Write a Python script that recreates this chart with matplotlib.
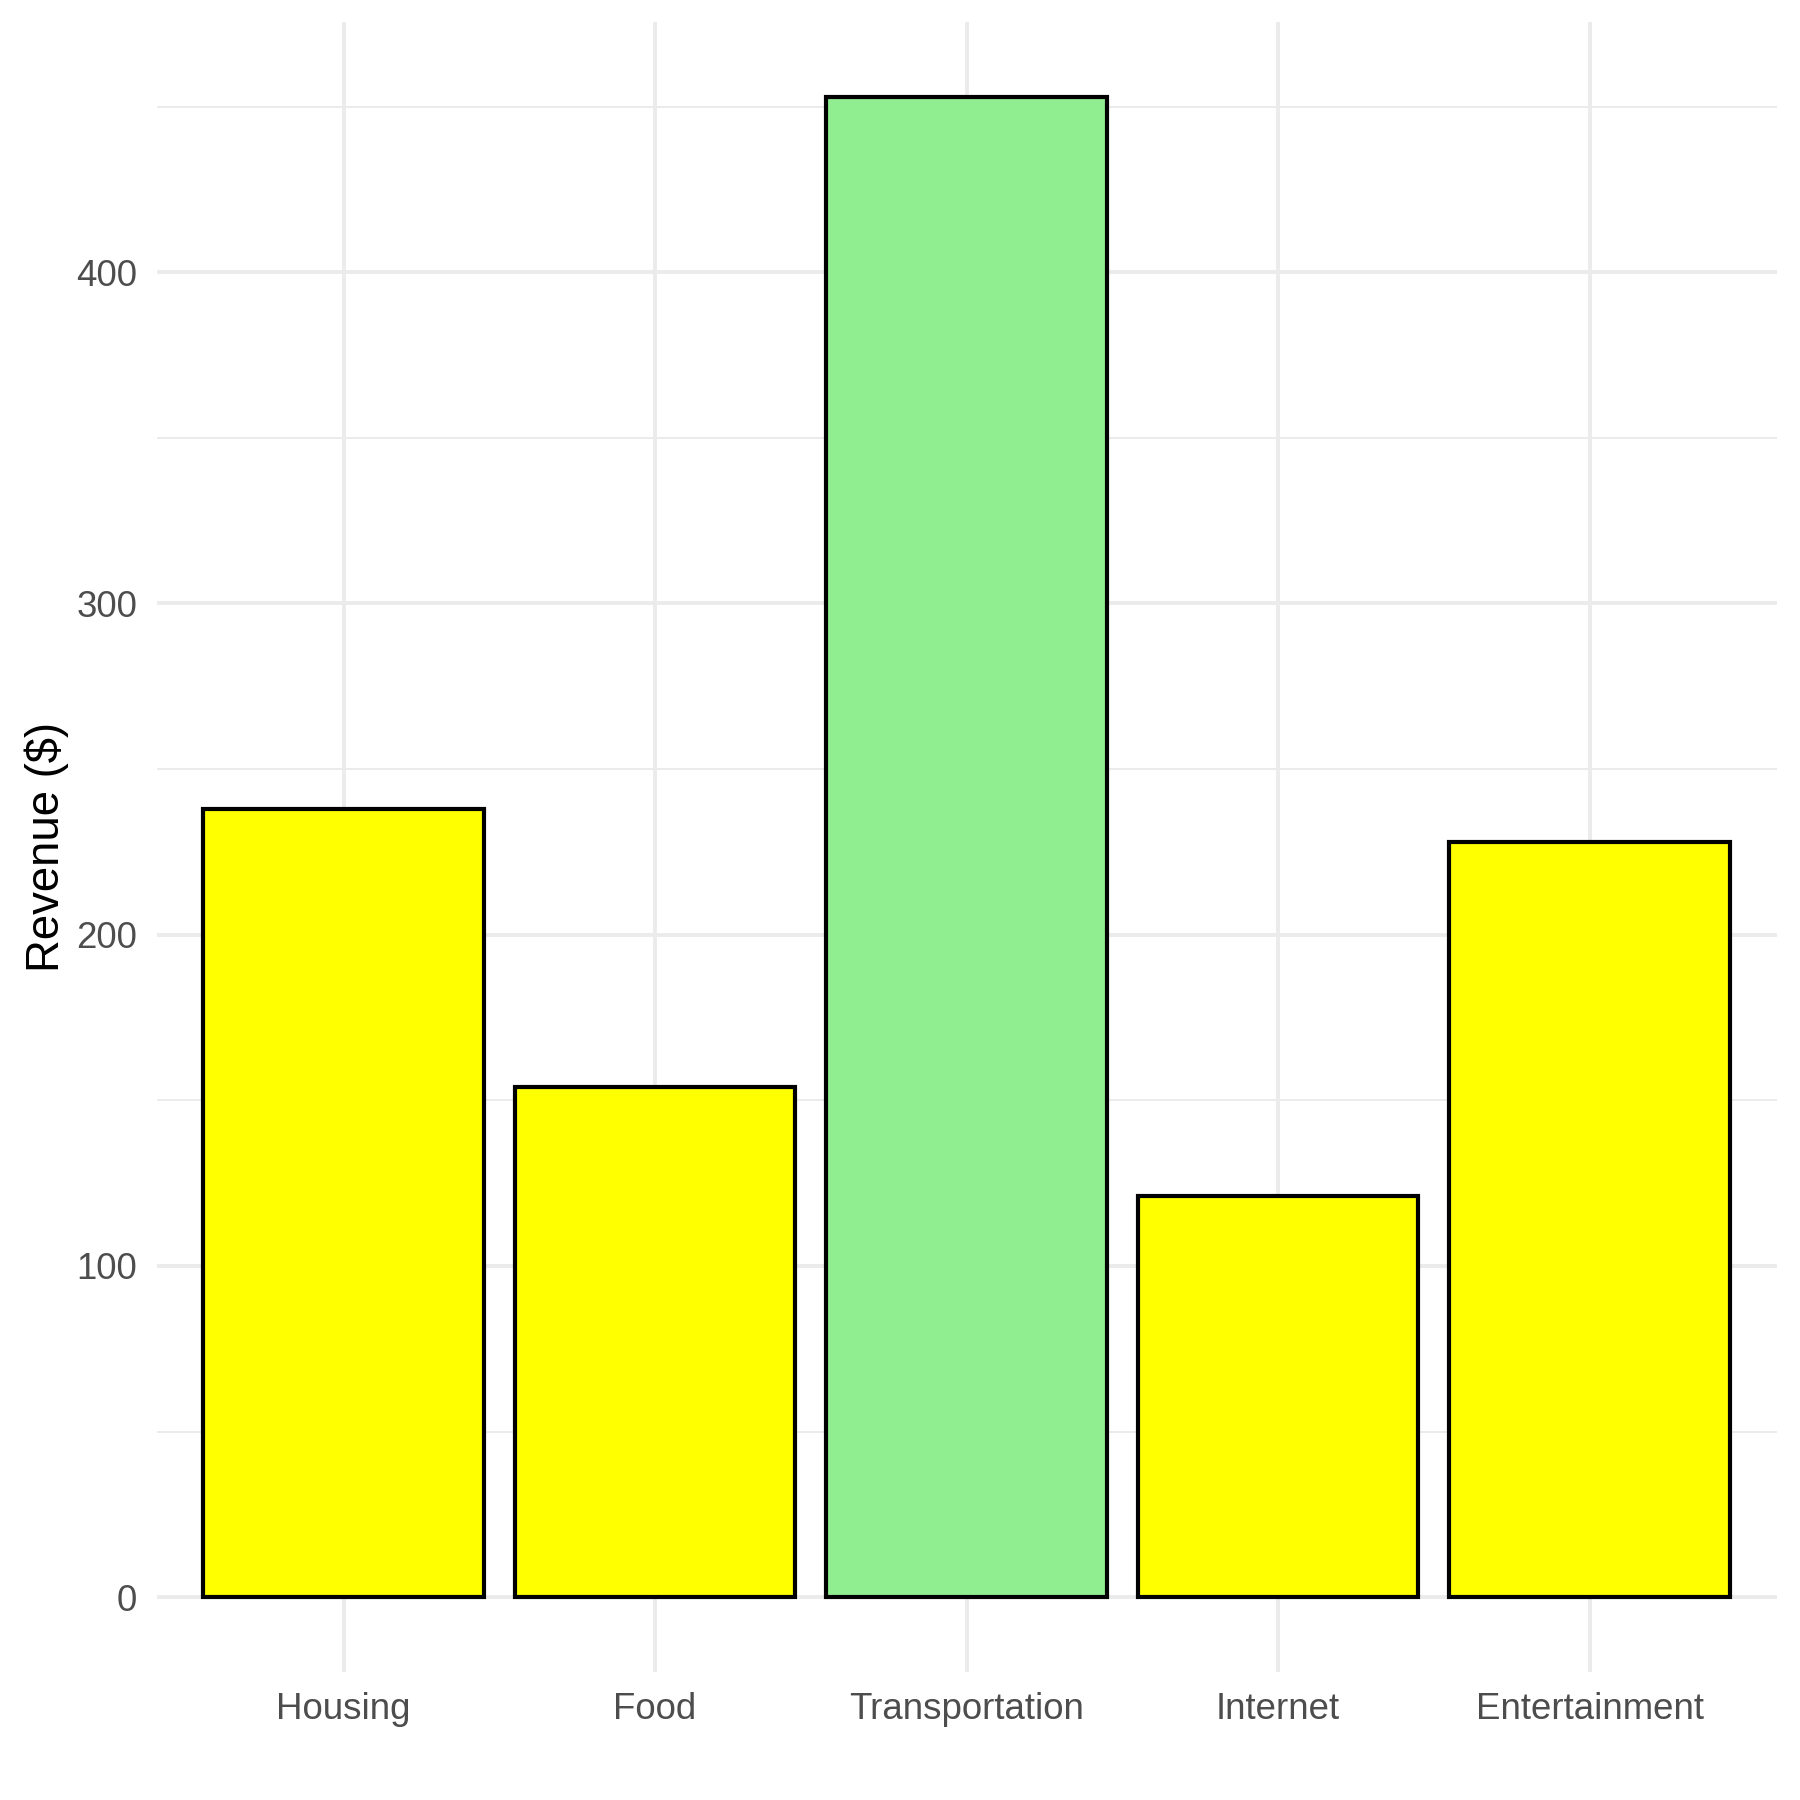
import numpy as np
import matplotlib.pyplot as plt

categories = ['Housing', 'Food', 'Transportation', 'Internet', 'Entertainment']
revenue = [238, 154, 453, 121, 228]
bar_colors = ['#FFFF00', '#FFFF00', '#90EE90', '#FFFF00', '#FFFF00']

plt.rcParams['font.family'] = ['Liberation Sans', 'DejaVu Sans']

fig = plt.figure(figsize=(9, 9), dpi=200)
ax = fig.add_axes([0.087, 0.071, 0.9, 0.917])

x = np.arange(1, len(categories) + 1)
ax.bar(x, revenue, width=0.9, color=bar_colors, edgecolor='black', linewidth=1.5, zorder=3)

ymax = max(revenue)
ax.set_ylim(-0.05 * ymax, ymax * 1.05)
ax.set_xlim(0.4, len(categories) + 0.6)

ax.set_yticks([0, 100, 200, 300, 400])
ax.set_yticks([50, 150, 250, 350, 450], minor=True)
ax.set_xticks(x, categories)

ax.grid(which='major', axis='both', color='#EBEBEB', linewidth=1.4, zorder=0)
ax.grid(which='minor', axis='y', color='#EBEBEB', linewidth=0.7, zorder=0)
ax.set_axisbelow(True)

for s in ax.spines.values():
    s.set_visible(False)
ax.tick_params(which='both', length=0, labelsize=13.2, labelcolor='#4D4D4D', pad=7)
ax.set_ylabel('Revenue ($)', fontsize=16.4, color='black', labelpad=2.5)

fig.savefig('out.png', dpi=200)
